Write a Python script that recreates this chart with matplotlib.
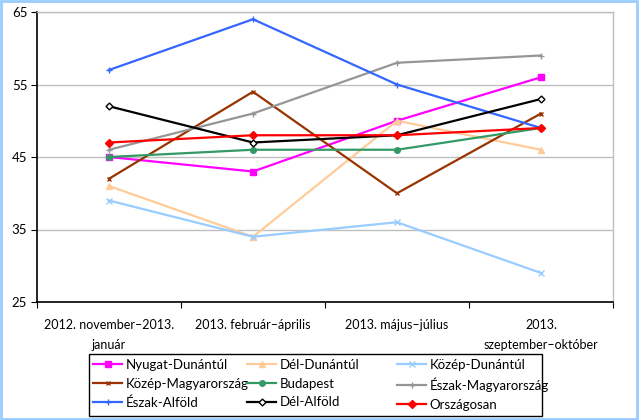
import matplotlib
matplotlib.use("Agg")
import matplotlib.pyplot as plt
from matplotlib.patches import Rectangle

plt.rcParams['font.family'] = ['Lato', 'DejaVu Sans']

categories = ["2012. november–2013.\njanuár", "2013. február–április",
              "2013. május–július", "2013.\nszeptember–október"]
y_ticks = [25, 35, 45, 55, 65]

nyugat_dunantul = [45, 43, 50, 56]
del_dunantul = [41, 34, 50, 46]
kozep_dunantul = [39, 34, 36, 29]
kozep_magyarorszag = [42, 54, 40, 51]
budapest = [45, 46, 46, 49]
eszak_magyarorszag = [46, 51, 58, 59]
eszak_alfold = [57, 64, 55, 49]
del_alfold = [52, 47, 48, 53]
orszagosan = [47, 48, 48, 49]

series = [
    ("Nyugat-Dunántúl", nyugat_dunantul, "#FF00FF", "s", 4, "#FF00FF"),
    ("Dél-Dunántúl", del_dunantul, "#FFCC99", "^", 5, "#FFCC99"),
    ("Közép-Dunántúl", kozep_dunantul, "#99CCFF", "x", 4, "#99CCFF"),
    ("Közép-Magyarország", kozep_magyarorszag, "#993300", "x", 3.5, "#993300"),
    ("Budapest", budapest, "#339966", "o", 4, "#339966"),
    ("Észak-Magyarország", eszak_magyarorszag, "#969696", "+", 5, "#969696"),
    ("Észak-Alföld", eszak_alfold, "#3366FF", "+", 5, "#3366FF"),
    ("Dél-Alföld", del_alfold, "#000000", "D", 3.5, "white"),
    ("Országosan", orszagosan, "#FF0000", "D", 4, "#FF0000"),
]

fig = plt.figure(figsize=(6.39, 4.20), dpi=100)
ax = fig.add_axes([37/639, 1-302/420, (613-37)/639, (302-12)/420])

x = list(range(len(categories)))
handles = []
for name, vals, col, mk, ms, mfc in series:
    h, = ax.plot(x, vals, color=col, lw=1.6, marker=mk, markersize=ms,
                 markerfacecolor=mfc, markeredgecolor=col, markeredgewidth=1.0,
                 label=name)
    handles.append(h)

ax.set_xlim(-0.5, len(categories) - 0.5)
ax.set_ylim(25, 65)
ax.set_yticks(y_ticks)
ax.set_yticklabels([str(v) for v in y_ticks], fontsize=9.5)
ax.yaxis.grid(True, color="#BFBFBF", lw=1)
ax.set_axisbelow(True)

ax.set_xticks([i - 0.5 for i in range(len(categories) + 1)])
ax.set_xticklabels([])
ax.set_xticks(x, minor=True)
ax.set_xticklabels(categories, minor=True, fontsize=9, linespacing=1.8)
ax.tick_params(axis='x', which='minor', length=0, pad=12)
ax.tick_params(axis='x', which='major', length=4, direction='out', color='black')
ax.tick_params(axis='y', length=4, direction='out', color='black', pad=3)

for s in ['left', 'bottom']:
    ax.spines[s].set_color('black')
    ax.spines[s].set_linewidth(1.2)
for s in ['top', 'right']:
    ax.spines[s].set_color('#BFBFBF')
    ax.spines[s].set_linewidth(1)

# legend: three equal-width columns inside a single frame
col_x = [93, 247, 397]
for c in range(3):
    idx = [c, c + 3, c + 6]
    lg = fig.legend([handles[i] for i in idx], [series[i][0] for i in idx],
                    loc='upper left', bbox_to_anchor=(col_x[c]/639, 1-359/420),
                    bbox_transform=fig.transFigure, frameon=False,
                    fontsize=9.5, handlelength=2.2, handletextpad=0.25,
                    borderpad=0, borderaxespad=0, labelspacing=0.5)

fig.patches.append(Rectangle((89/639, 1-416/420), 453/639, 62/420,
                             transform=fig.transFigure, fill=False,
                             edgecolor='black', lw=1))
fig.patches.append(Rectangle((0.001, 0.002), 0.996, 0.995, transform=fig.transFigure,
                             fill=False, edgecolor='#99CCFF', lw=2))

fig.savefig("out.png", dpi=100)
